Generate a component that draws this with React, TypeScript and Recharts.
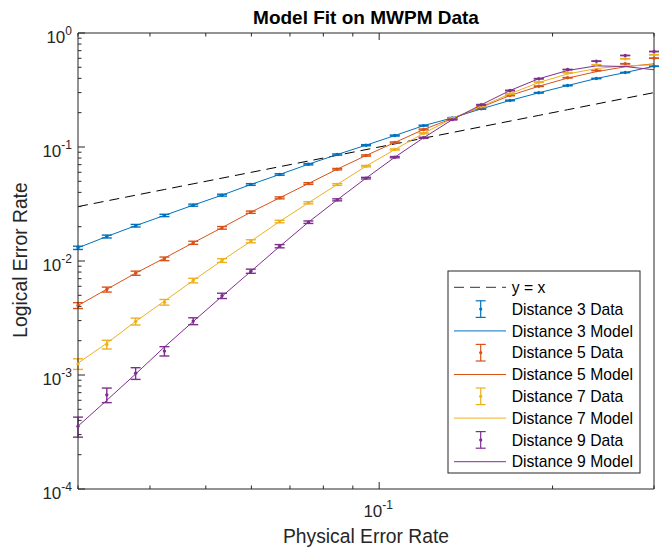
import React from 'react';
import { ComposedChart, XAxis, YAxis, Line, Scatter, ErrorBar } from 'recharts';

// ---------- data ----------
const physicalErrorRate = [0.03, 0.03366, 0.03777, 0.04238, 0.04755, 0.05335, 0.05986, 0.06717, 0.07536, 0.08456, 0.09487, 0.10645, 0.11944, 0.13401, 0.15036, 0.16871, 0.18929, 0.21239, 0.2383, 0.26738, 0.3];

const d3Data = [0.01305, 0.0164, 0.0204, 0.0251, 0.0309, 0.0378, 0.0469, 0.0574, 0.0706, 0.0859, 0.1037, 0.126, 0.154, 0.18, 0.216, 0.256, 0.299, 0.346, 0.399, 0.45, 0.511];
const d3Err = [0.00043, 0.00048, 0.00053, 0.00059, 0.00065, 0.00072, 0.0008, 0.00088, 0.00097, 0.00106, 0.00115, 0.00125, 0.00136, 0.00145, 0.00156, 0.00165, 0.00173, 0.0018, 0.00185, 0.00188, 0.00189];
const d3Model = [0.01305, 0.0164, 0.0204, 0.0251, 0.0309, 0.0378, 0.0469, 0.0574, 0.0706, 0.0859, 0.1037, 0.126, 0.154, 0.18, 0.216, 0.256, 0.299, 0.346, 0.399, 0.45, 0.511];

const d5Data = [0.00407, 0.00562, 0.00782, 0.01045, 0.01445, 0.01954, 0.0268, 0.0358, 0.0478, 0.0639, 0.0842, 0.1095, 0.1425, 0.178, 0.2235, 0.283, 0.341, 0.405, 0.469, 0.537, 0.601];
const d5Err = [0.00024, 0.00028, 0.00033, 0.00038, 0.00045, 0.00052, 0.00061, 0.0007, 0.00081, 0.00093, 0.00105, 0.00118, 0.00131, 0.00145, 0.00158, 0.0017, 0.00179, 0.00186, 0.00189, 0.00189, 0.00185];
const d5Model = [0.00407, 0.00565, 0.00782, 0.0106, 0.01445, 0.0196, 0.0268, 0.0358, 0.0478, 0.0639, 0.0842, 0.1095, 0.1425, 0.178, 0.2235, 0.283, 0.341, 0.402, 0.458, 0.505, 0.537];

const d7Data = [0.001253, 0.001853, 0.00295, 0.00435, 0.00674, 0.0101, 0.0149, 0.0222, 0.0324, 0.0469, 0.0679, 0.0951, 0.132, 0.178, 0.2265, 0.293, 0.37, 0.448, 0.526, 0.594, 0.644];
const d7Err = [0.000134, 0.000163, 0.000205, 0.000249, 0.00031, 0.00038, 0.00046, 0.00056, 0.00067, 0.0008, 0.00095, 0.00111, 0.00127, 0.00145, 0.00159, 0.00172, 0.00183, 0.00188, 0.00189, 0.00186, 0.00179];
const d7Model = [0.00127, 0.0019, 0.00295, 0.00445, 0.00674, 0.0101, 0.0149, 0.0222, 0.0324, 0.0469, 0.0679, 0.0951, 0.132, 0.178, 0.2265, 0.293, 0.368, 0.437, 0.488, 0.515, 0.526];

const d9Data = [0.000356, 0.00067, 0.001037, 0.00162, 0.00297, 0.00495, 0.00814, 0.01349, 0.0219, 0.0344, 0.0533, 0.0814, 0.1205, 0.174, 0.2345, 0.313, 0.397, 0.478, 0.566, 0.635, 0.688];
const d9Err = [0.000071, 0.000098, 0.000122, 0.000152, 0.000206, 0.000265, 0.00034, 0.00044, 0.00055, 0.00069, 0.00085, 0.00103, 0.00124, 0.00143, 0.00159, 0.00175, 0.00185, 0.00189, 0.00187, 0.00182, 0.00176];
const d9Model = [0.000356, 0.0006, 0.00102, 0.00176, 0.00295, 0.0049, 0.0081, 0.0134, 0.0219, 0.0344, 0.0533, 0.0814, 0.1205, 0.174, 0.2345, 0.313, 0.397, 0.469, 0.515, 0.508, 0.476];

const xTicks = [0.03, 0.04, 0.05, 0.06, 0.07, 0.08, 0.09, 0.1, 0.2, 0.3];
const yTicks = [
  0.0001, 0.0002, 0.0003, 0.0004, 0.0005, 0.0006, 0.0007, 0.0008, 0.0009,
  0.001, 0.002, 0.003, 0.004, 0.005, 0.006, 0.007, 0.008, 0.009,
  0.01, 0.02, 0.03, 0.04, 0.05, 0.06, 0.07, 0.08, 0.09,
  0.1, 0.2, 0.3, 0.4, 0.5, 0.6, 0.7, 0.8, 0.9,
  1,
];

const legendLabels = ['y = x', 'Distance 3 Data', 'Distance 3 Model', 'Distance 5 Data', 'Distance 5 Model', 'Distance 7 Data', 'Distance 7 Model', 'Distance 9 Data', 'Distance 9 Model'];

// ---------- styles ----------
const AX = '#262626';
const FONT = '"Liberation Sans", Arial, Helvetica, sans-serif';
const C3 = '#0072BD';
const C5 = '#D95319';
const C7 = '#EDB120';
const C9 = '#7E2F8E';
const EBW = 1.4;

const rows = physicalErrorRate.map((p, i) => ({
  p,
  yx: p,
  d3: d3Data[i], e3: d3Err[i], m3: d3Model[i],
  d5: d5Data[i], e5: d5Err[i], m5: d5Model[i],
  d7: d7Data[i], e7: d7Err[i], m7: d7Model[i],
  d9: d9Data[i], e9: d9Err[i], m9: d9Model[i],
}));

const isMajor = (v: number) => Math.abs(Math.log10(v) - Math.round(Math.log10(v))) < 1e-6;

const XTickBottom = (props: any) => {
  const { x, y, payload } = props;
  const v = payload.value;
  const major = isMajor(v);
  const len = major ? 7 : 3.5;
  return (
    <g>
      <line x1={x} y1={y} x2={x} y2={y - len} stroke={AX} strokeWidth={1} />
      {major && (
        <text x={x - 1} y={y + 28} textAnchor="middle" fontSize={17} fill={AX} fontFamily={FONT}>
          10<tspan dy={-8} fontSize={12}>{String(Math.round(Math.log10(v)))}</tspan>
        </text>
      )}
    </g>
  );
};

const XTickTop = (props: any) => {
  const { x, y, payload } = props;
  const len = isMajor(payload.value) ? 7 : 3.5;
  return <line x1={x} y1={y} x2={x} y2={y + len} stroke={AX} strokeWidth={1} />;
};

const YTickLeft = (props: any) => {
  const { x, y, payload } = props;
  const v = payload.value;
  const major = isMajor(v);
  const len = major ? 7 : 3.5;
  return (
    <g>
      <line x1={x} y1={y} x2={x + len} y2={y} stroke={AX} strokeWidth={1} />
      {major && (
        <text x={x - 6} y={y + 10} textAnchor="end" fontSize={17} fill={AX} fontFamily={FONT}>
          10<tspan dy={-8} fontSize={12}>{String(Math.round(Math.log10(v)))}</tspan>
        </text>
      )}
    </g>
  );
};

const YTickRight = (props: any) => {
  const { x, y, payload } = props;
  const len = isMajor(payload.value) ? 7 : 3.5;
  return <line x1={x} y1={y} x2={x - len} y2={y} stroke={AX} strokeWidth={1} />;
};

const dotShape = (color: string) => (props: any) => (
  <circle cx={props.cx} cy={props.cy} r={1.7} fill={color} />
);

const Legend = () => {
  const x0 = 448, y0 = 271, w = 192, h = 202;
  const rowH = 21.8;
  const first = 287.3;
  const items: { kind: 'dash' | 'data' | 'model'; color: string }[] = [
    { kind: 'dash', color: '#000' },
    { kind: 'data', color: C3 }, { kind: 'model', color: C3 },
    { kind: 'data', color: C5 }, { kind: 'model', color: C5 },
    { kind: 'data', color: C7 }, { kind: 'model', color: C7 },
    { kind: 'data', color: C9 }, { kind: 'model', color: C9 },
  ];
  return (
    <g>
      <rect x={x0} y={y0} width={w} height={h} fill="#fff" stroke={AX} strokeWidth={1} />
      {items.map((it, i) => {
        const c = first + i * rowH;
        let glyph: any = null;
        if (it.kind === 'dash') {
          glyph = <line x1={454} y1={c} x2={506} y2={c} stroke="#333" strokeWidth={1} strokeDasharray="10 6" />;
        } else if (it.kind === 'model') {
          glyph = <line x1={454} y1={c} x2={506} y2={c} stroke={it.color} strokeWidth={1} />;
        } else {
          glyph = (
            <g stroke={it.color} strokeWidth={1.2}>
              <line x1={480.7} y1={c - 8.3} x2={480.7} y2={c + 8.3} />
              <line x1={475.7} y1={c - 8.3} x2={485.7} y2={c - 8.3} />
              <line x1={475.7} y1={c + 8.3} x2={485.7} y2={c + 8.3} />
              <circle cx={480.7} cy={c} r={1.6} fill={it.color} stroke="none" />
            </g>
          );
        }
        return (
          <g key={i}>
            {glyph}
            <text x={511.7} y={c + 5.6} fontSize={15.7} fill="#000" fontFamily={FONT}>{legendLabels[i]}</text>
          </g>
        );
      })}
    </g>
  );
};

export default function App() {
  return (
    <div style={{ position: 'absolute', left: 0, top: 0, width: 660, height: 547, background: '#fff' }}>
      <div style={{ position: 'absolute', left: 0, top: 0 }}>
        <ComposedChart width={660} height={547} data={rows} margin={{ top: 32, right: 5, bottom: 57, left: 77 }}>
          <XAxis
            dataKey="p" type="number" scale="log" domain={[0.03, 0.3]} ticks={xTicks} interval={0}
            height={1} tickSize={0} tickMargin={0} tickLine={false} tick={<XTickBottom />}
            axisLine={{ stroke: AX, strokeWidth: 1 }}
          />
          <XAxis
            xAxisId="top" orientation="top" dataKey="p" type="number" scale="log" domain={[0.03, 0.3]} ticks={xTicks} interval={0}
            height={1} tickSize={0} tickMargin={0} tickLine={false} tick={<XTickTop />}
            axisLine={{ stroke: AX, strokeWidth: 1 }}
          />
          <YAxis
            type="number" scale="log" domain={[0.0001, 1]} ticks={yTicks} interval={0}
            width={1} tickSize={0} tickMargin={0} tickLine={false} tick={<YTickLeft />}
            axisLine={{ stroke: AX, strokeWidth: 1 }}
          />
          <YAxis
            yAxisId="right" orientation="right" type="number" scale="log" domain={[0.0001, 1]} ticks={yTicks} interval={0}
            width={1} tickSize={0} tickMargin={0} tickLine={false} tick={<YTickRight />}
            axisLine={{ stroke: AX, strokeWidth: 1 }}
          />

          <Line dataKey="yx" type="linear" stroke="#000" strokeWidth={1} strokeDasharray="10 6" dot={false} activeDot={false} isAnimationActive={false} />

          <Scatter data={rows} dataKey="d3" shape={dotShape(C3)} isAnimationActive={false}>
            <ErrorBar dataKey="e3" direction="y" width={5} stroke={C3} strokeWidth={EBW} />
          </Scatter>
          <Line dataKey="m3" type="linear" stroke={C3} strokeWidth={1} dot={false} activeDot={false} isAnimationActive={false} />

          <Scatter data={rows} dataKey="d5" shape={dotShape(C5)} isAnimationActive={false}>
            <ErrorBar dataKey="e5" direction="y" width={5} stroke={C5} strokeWidth={EBW} />
          </Scatter>
          <Line dataKey="m5" type="linear" stroke={C5} strokeWidth={1} dot={false} activeDot={false} isAnimationActive={false} />

          <Scatter data={rows} dataKey="d7" shape={dotShape(C7)} isAnimationActive={false}>
            <ErrorBar dataKey="e7" direction="y" width={5} stroke={C7} strokeWidth={EBW} />
          </Scatter>
          <Line dataKey="m7" type="linear" stroke={C7} strokeWidth={1} dot={false} activeDot={false} isAnimationActive={false} />

          <Scatter data={rows} dataKey="d9" shape={dotShape(C9)} isAnimationActive={false}>
            <ErrorBar dataKey="e9" direction="y" width={5} stroke={C9} strokeWidth={EBW} />
          </Scatter>
          <Line dataKey="m9" type="linear" stroke={C9} strokeWidth={1} dot={false} activeDot={false} isAnimationActive={false} />
        </ComposedChart>
      </div>
      <svg width={660} height={547} style={{ position: 'absolute', left: 0, top: 0, pointerEvents: 'none' }}>
        <text x={366} y={24} textAnchor="middle" fontSize={19} fontWeight="bold" fill="#000" fontFamily={FONT}>Model Fit on MWPM Data</text>
        <text x={366} y={543} textAnchor="middle" fontSize={19.3} fill={AX} fontFamily={FONT}>Physical Error Rate</text>
        <text x={27} y={260} textAnchor="middle" fontSize={19.3} fill={AX} fontFamily={FONT} transform="rotate(-90 27 260)">Logical Error Rate</text>
        <Legend />
      </svg>
    </div>
  );
}
